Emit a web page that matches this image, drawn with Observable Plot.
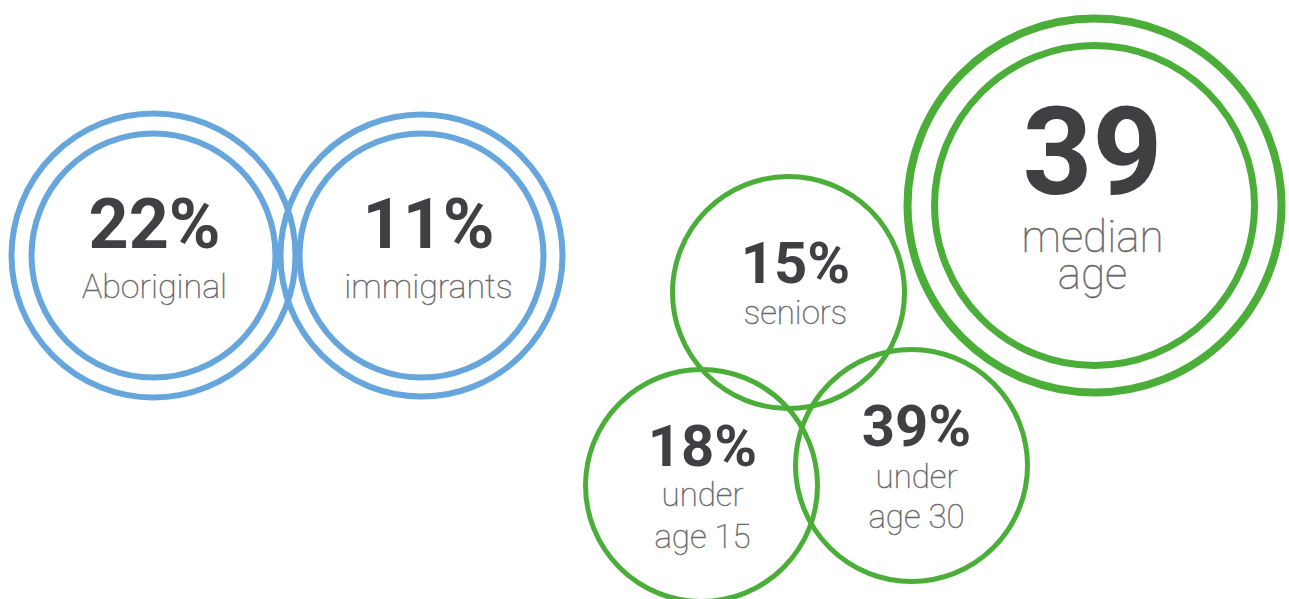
<!DOCTYPE html>
<html>
<head>
<meta charset="utf-8">
<script src="https://cdn.jsdelivr.net/npm/d3@7"></script>
<script src="https://cdn.jsdelivr.net/npm/@observablehq/plot@0.6"></script>
<style>
  html, body { margin: 0; padding: 0; background: #fff; }
  #chart svg { display: block; }
</style>
</head>
<body>
<div id="chart"></div>
<script>
// ---- data ----
const values = ["22%", "11%", "15%", "18%", "39%", "39"];
const labels = ["Aboriginal", "immigrants", "seniors", "under\nage 15", "under\nage 30", "median\nage"];
const groups = ["population", "population", "age", "age", "age", "age"];

// ---- layout (pixel positions of each badge) ----
const centerX = [153, 421, 788, 701, 911, 1094];
const centerY = [255, 255, 292, 485, 465, 205];
const textX   = [154, 428, 795, 702, 916, 1092];
const outerR  = [142, 141, 116, 116, 116, 187];
const innerR  = [122, 122, null, null, null, 160];
const valueDy = [-8, -8, -10, -20, -20, -12];
const labelDy = [42, 42, 31, 62, 62, 83];
const valueSize = [70, 70, 58, 58, 58, 122];
const labelSize = [34, 34, 33, 33, 33, 44];
const lineH = [1, 1, 1, 1.27, 1.21, 0.84];

const colors = {population: "#66a6dc", age: "#4aae38"};

const items = values.map((v, i) => ({
  value: v, label: labels[i], group: groups[i],
  x: centerX[i], y: centerY[i], tx: textX[i], ro: outerR[i], ri: innerR[i],
  vy: centerY[i] + valueDy[i], ly: centerY[i] + labelDy[i],
  vs: valueSize[i], ls: labelSize[i], lh: lineH[i]
}));

const ringWidth = (d, inner) => d.group === "population" ? 6 : (d.ri ? (inner ? 7 : 8) : 5);

const marks = [];
for (const d of items) {
  marks.push(Plot.dot([d], {x: "x", y: "y", r: "ro", fill: "none",
    stroke: colors[d.group], strokeWidth: ringWidth(d, false)}));
  if (d.ri) marks.push(Plot.dot([d], {x: "x", y: "y", r: "ri", fill: "none",
    stroke: colors[d.group], strokeWidth: ringWidth(d, true)}));
}
marks.push(Plot.text(items, {x: "tx", y: "vy", text: "value", fontSize: "vs",
  fontWeight: 700, fontFamily: "Roboto", fill: "#404042",
  textAnchor: "middle", lineAnchor: "bottom"}));
for (const d of items) {
  marks.push(Plot.text([d], {x: "tx", y: "ly", text: "label", fontSize: d.ls,
    fontWeight: 100, fontFamily: "Roboto", fill: "#68686b",
    stroke: "#68686b", strokeWidth: 0.45,
    textAnchor: "middle", lineAnchor: "bottom", lineHeight: d.lh}));
}

const chart = Plot.plot({
  width: 1289, height: 599,
  margin: 0,
  x: {type: "identity", axis: null},
  y: {type: "identity", axis: null},
  r: {type: "identity"},
  style: {background: "#fff", overflow: "visible"},
  marks
});
document.getElementById("chart").appendChild(chart);
</script>
</body>
</html>
